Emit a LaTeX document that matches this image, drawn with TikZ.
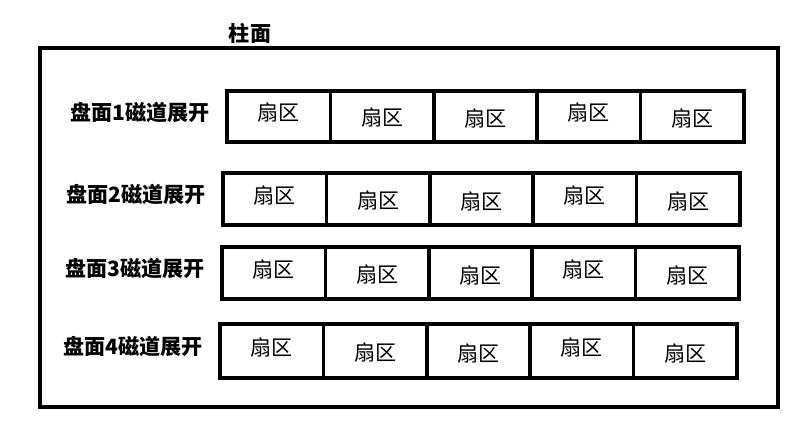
\documentclass[tikz,border=0pt]{standalone}
\usepackage{fontspec}
\newfontfamily\cjk{Noto Sans CJK SC}
\begin{document}
\begin{tikzpicture}[x=0.03cm, y=-0.03cm, font=\cjk\fontsize{18}{20}\selectfont,
  lbl/.style={font=\cjk\bfseries\fontsize{18}{20}\selectfont}]
\useasboundingbox (0,0) rectangle (803,430);

\draw[line width=3pt] (40,48) rectangle (778,407);
\node[lbl] (title) at (250,33) {柱面};

% rows: y top, y bottom, x left
\foreach \r/\yt/\yb/\xl in {1/91/142/227, 2/173/225/223, 3/247/299/222, 4/324/378/220} {
  \node[lbl, anchor=east] (disk\r) at (\xl-13,{(\yt+\yb)/2-4}) {盘面\r 磁道展开};
  \foreach \s/\dy in {0/-4, 1/1, 2/2, 3/-4, 4/2} {
    \draw[line width=3pt] (\xl+\s*103.4,\yt) rectangle (\xl+\s*103.4+103.4,\yb);
    \node (sec\r\s) at (\xl+\s*103.4+51.7,{(\yt+\yb)/2+\dy}) {扇区};
  }
}
\end{tikzpicture}
\end{document}
